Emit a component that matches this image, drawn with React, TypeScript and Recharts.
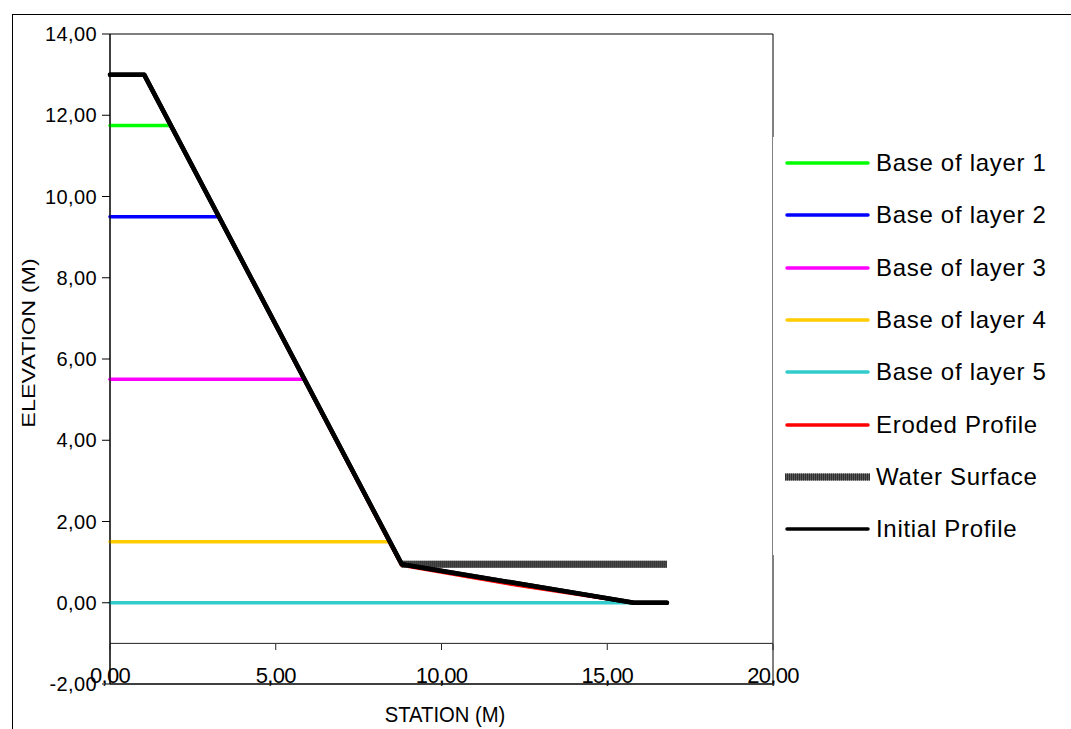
import { ComposedChart, Line, XAxis, YAxis, ReferenceLine, ReferenceArea, Legend } from 'recharts';

// station (m) / elevation (m) pairs
const layer1 = [{ x: 0, y: 11.75 }, { x: 1.83, y: 11.75 }];
const layer2 = [{ x: 0, y: 9.5 }, { x: 3.28, y: 9.5 }];
const layer3 = [{ x: 0, y: 5.5 }, { x: 5.86, y: 5.5 }];
const layer4 = [{ x: 0, y: 1.5 }, { x: 8.44, y: 1.5 }];
const layer5 = [{ x: 0, y: 0 }, { x: 15.8, y: 0 }];
const erodedProfile = [
  { x: 0, y: 13 }, { x: 1.03, y: 13 }, { x: 8.8, y: 0.92 },
  { x: 12.3, y: 0.43 }, { x: 15.8, y: 0 }, { x: 16.8, y: 0 },
];
const waterSurface = [{ x: 8.8, y: 0.95 }, { x: 16.8, y: 0.95 }];
const initialProfile = [
  { x: 0, y: 13 }, { x: 1.03, y: 13 }, { x: 8.8, y: 0.95 }, { x: 15.8, y: 0 }, { x: 16.8, y: 0 },
];

const xTicks = [0, 5, 10, 15, 20];
const yTicks = [-2, 0, 2, 4, 6, 8, 10, 12, 14];

const FONT = '"Liberation Sans", Arial, sans-serif';

const series = [
  { name: 'Base of layer 1', data: layer1, color: '#00FF00', width: 3.5 },
  { name: 'Base of layer 2', data: layer2, color: '#0000FF', width: 3.5 },
  { name: 'Base of layer 3', data: layer3, color: '#FF00FF', width: 3.5 },
  { name: 'Base of layer 4', data: layer4, color: '#FFCC00', width: 3.5 },
  { name: 'Base of layer 5', data: layer5, color: '#33CCCC', width: 3.5 },
  { name: 'Eroded Profile', data: erodedProfile, color: '#FF0000', width: 3.5 },
  { name: 'Water Surface', data: waterSurface, color: '#555555', width: 7 },
  { name: 'Initial Profile', data: initialProfile, color: '#000000', width: 4.5 },
];

const fmt = (v: number) => v.toFixed(2).replace('.', ',');

// x labels sit just above the lower frame; small ticks hang from the y = -1 line
function XTick({ x, y, payload }: any) {
  return (
    <g>
      <line x1={x} x2={x} y1={y - 40} y2={y - 34} stroke="#222" />
      <text x={x} y={y - 1} textAnchor="middle" fontSize={22} letterSpacing={-0.7} fontFamily={FONT} fill="#000">
        {fmt(payload.value)}
      </text>
    </g>
  );
}

function LegendBox() {
  return (
    <div style={{ paddingTop: 0, fontFamily: FONT }}>
      {series.map((s) => (
        <div key={s.name} style={{ height: 52.3, display: 'flex', alignItems: 'center' }}>
          <svg width={97} height={10} style={{ display: 'block' }}>
            {s.name === 'Water Surface' ? (
              <>
                <line x1={12} x2={97} y1={5} y2={5} stroke="#5a5a5a" strokeWidth={7} />
                <line x1={12} x2={97} y1={5} y2={5} stroke="#2e2e2e" strokeWidth={7} strokeDasharray="1 1" />
              </>
            ) : (
              <line x1={14} x2={95} y1={5} y2={5} stroke={s.color} strokeWidth={3.5} strokeLinecap="round" />
            )}
          </svg>
          <span style={{ marginLeft: 6, fontSize: 24, letterSpacing: 0.7, color: '#000', whiteSpace: 'nowrap' }}>
            {s.name}
          </span>
        </div>
      ))}
    </div>
  );
}

export default function App() {
  return (
    <div style={{ position: 'absolute', left: 0, top: 0, width: 1071, height: 729, background: '#fff', overflow: 'hidden' }}>
      <div style={{ position: 'absolute', left: 12, top: 14, right: -2, bottom: -2, borderLeft: '1px solid #000', borderTop: '1px solid #000' }} />
      <ComposedChart
        width={1071}
        height={729}
        margin={{ top: 34, right: 298, bottom: 0, left: 0 }}
        style={{ position: 'absolute', left: 0, top: 0 }}
      >
        <XAxis
          dataKey="x"
          type="number"
          domain={[0, 20]}
          ticks={xTicks}
          height={45}
          tickSize={0}
          tickMargin={0}
          tickLine={false}
          axisLine={{ stroke: '#000' }}
          tick={<XTick />}
          interval={0}
        />
        <YAxis
          type="number"
          domain={[-2, 14]}
          ticks={yTicks}
          width={110}
          interval={0}
          tickSize={8}
          tickMargin={5}
          tickLine={{ stroke: '#000' }}
          axisLine={{ stroke: '#000' }}
          tick={{ fontSize: 20, fill: '#000', fontFamily: FONT, letterSpacing: 0.4 }}
          tickFormatter={fmt}
        />
        <ReferenceArea x1={0} x2={20} y1={-2} y2={14} fill="none" stroke="#000" strokeWidth={1} ifOverflow="visible" />
        <ReferenceLine y={-1} stroke="#222" />
        {series.map((s) => (
          <Line
            key={s.name}
            data={s.data}
            dataKey="y"
            name={s.name}
            type="linear"
            stroke={s.color}
            strokeWidth={s.width}
            strokeLinecap={s.name === 'Water Surface' ? 'butt' : 'round'}
            strokeLinejoin="round"
            dot={false}
            activeDot={false}
            isAnimationActive={false}
          />
        ))}
        <Line
          data={waterSurface}
          dataKey="y"
          name="water-hatch"
          legendType="none"
          type="linear"
          stroke="#2e2e2e"
          strokeWidth={7}
          strokeDasharray="1 1"
          dot={false}
          activeDot={false}
          isAnimationActive={false}
        />
        <Line
          data={initialProfile}
          dataKey="y"
          name="initial-top"
          legendType="none"
          type="linear"
          stroke="#000"
          strokeWidth={4.5}
          strokeLinecap="round"
          strokeLinejoin="round"
          dot={false}
          activeDot={false}
          isAnimationActive={false}
        />
        <Legend
          layout="vertical"
          align="center"
          verticalAlign="middle"
          content={<LegendBox />}
          wrapperStyle={{ left: 773, top: 137, width: 298, height: 418, background: '#fff' }}
        />
      </ComposedChart>
      <div
        style={{
          position: 'absolute', left: 29, top: 343, fontFamily: FONT, fontSize: 18, color: '#000',
          whiteSpace: 'nowrap', transform: 'translate(-50%, -50%) rotate(-90deg) scaleX(1.3)',
        }}
      >
        ELEVATION (M)
      </div>
      <div
        style={{
          position: 'absolute', left: 445, top: 715, fontFamily: FONT, fontSize: 22, color: '#000',
          whiteSpace: 'nowrap', transform: 'translate(-50%, -50%) scaleX(0.92)',
        }}
      >
        STATION (M)
      </div>
    </div>
  );
}
